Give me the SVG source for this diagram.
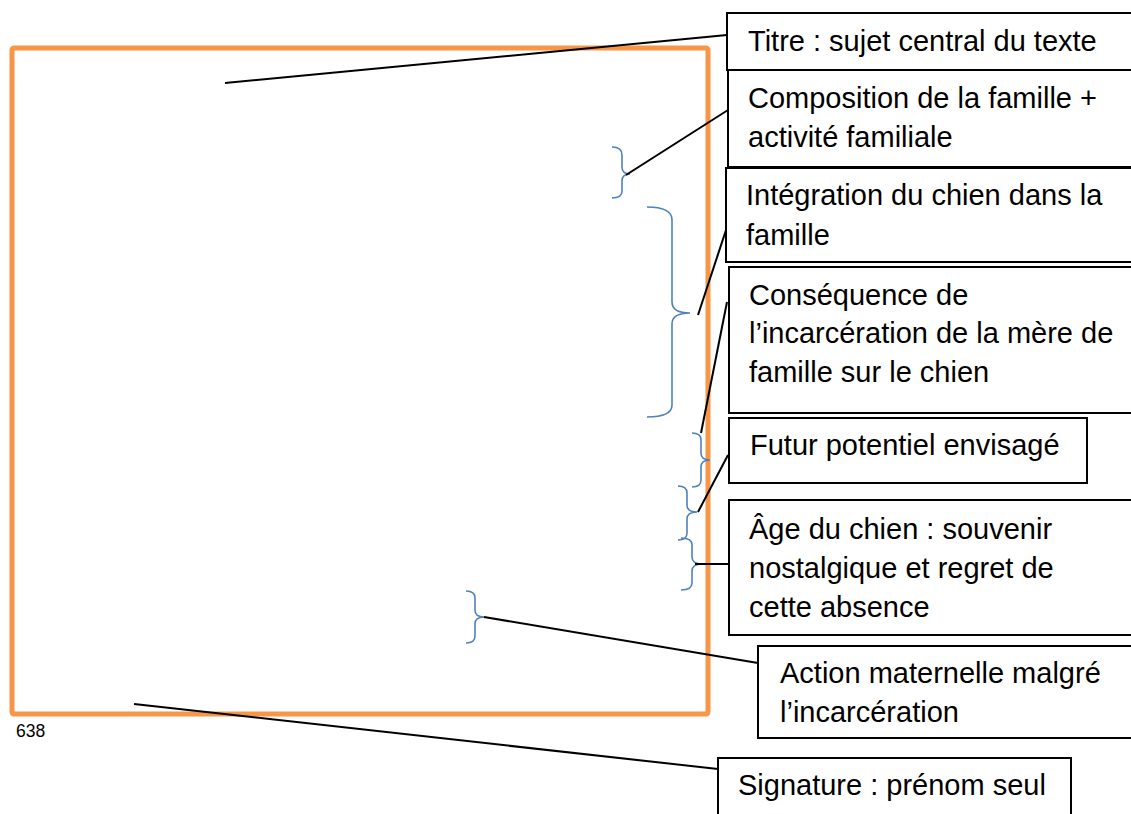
<svg xmlns="http://www.w3.org/2000/svg" width="1131" height="814" viewBox="0 0 1131 814">
<style>
.box{fill:#fff;stroke:#000;stroke-width:2}
.t{font-family:"Liberation Sans",Arial,sans-serif;font-size:29px;fill:#000}
.ln{stroke:#000;stroke-width:2;fill:none}
.br{stroke:#4F81BD;stroke-width:1.6;fill:none}
</style>
<rect width="1131" height="814" fill="#fff"/>
<g id="frame">
<rect x="12" y="48" width="696" height="666" rx="2" fill="none" stroke="#F79646" stroke-width="5"/>
<text x="16" y="737" font-family="Liberation Sans,Arial,sans-serif" font-size="17.5">638</text>
</g>
<g id="braces">
<path class="br" d="M612 147 Q622 147 622 155 L622 167 Q622 174 630 174 Q622 174 622 181 L622 191 Q622 198 612 198"/>
<path class="br" d="M647 207 Q672 207 672 220 L672 302 Q672 313 690 313 Q672 313 672 324 L672 405 Q672 417 647 417"/>
<path class="br" d="M692 433 Q701 433 701 440 L701 453 Q701 460 710 460 Q701 460 701 467 L701 480 Q701 487 692 487"/>
<path class="br" d="M678 486 Q687 486 687 493 L687 505 Q687 512 697 512 Q687 512 687 519 L687 533 Q687 540 678 540"/>
<path class="br" d="M681 538 Q692 538 692 545 L692 557 Q692 564 702 564 Q692 564 692 571 L692 583 Q692 590 681 590"/>
<path class="br" d="M466 591 Q475 591 475 598 L475 610 Q475 617 484 617 Q475 617 475 624 L475 636 Q475 643 466 643"/>
</g>
<g id="connectors">
<line class="ln" x1="225" y1="83" x2="727" y2="35"/>
<line class="ln" x1="626" y1="175" x2="728" y2="110"/>
<line class="ln" x1="698" y1="315" x2="727" y2="227"/>
<line class="ln" x1="701" y1="433" x2="727" y2="302"/>
<line class="ln" x1="698" y1="512" x2="728" y2="455"/>
<line class="ln" x1="695" y1="564" x2="729" y2="564"/>
<line class="ln" x1="484" y1="617" x2="758" y2="663"/>
<line class="ln" x1="134" y1="704" x2="718" y2="769"/>
</g>
<g id="n1"><rect class="box" x="727" y="13" width="420" height="57"/><text class="t" x="748" y="51">Titre : sujet central du texte</text></g>
<g id="n2"><rect class="box" x="728" y="70" width="420" height="97"/><text class="t" x="748" y="108">Composition de la famille +</text><text class="t" x="748" y="147">activité familiale</text></g>
<g id="n3"><rect class="box" x="726" y="168" width="420" height="94"/><text class="t" x="746" y="205">Intégration du chien dans la</text><text class="t" x="746" y="245">famille</text></g>
<g id="n4"><rect class="box" x="729" y="267" width="420" height="146"/><text class="t" x="749" y="305">Conséquence de</text><text class="t" x="749" y="343">l’incarcération de la mère de</text><text class="t" x="749" y="382">famille sur le chien</text></g>
<g id="n5"><rect class="box" x="729" y="418" width="358" height="65"/><text class="t" x="750" y="455">Futur potentiel envisagé</text></g>
<g id="n6"><rect class="box" x="729" y="500" width="420" height="135"/><text class="t" x="749" y="539">Âge du chien : souvenir</text><text class="t" x="749" y="578">nostalgique et regret de</text><text class="t" x="749" y="617">cette absence</text></g>
<g id="n7"><rect class="box" x="758" y="646" width="400" height="92"/><text class="t" x="780" y="683">Action maternelle malgré</text><text class="t" x="780" y="722">l’incarcération</text></g>
<g id="n8"><rect class="box" x="718" y="758" width="353" height="70"/><text class="t" x="738" y="795">Signature : prénom seul</text></g>
</svg>
